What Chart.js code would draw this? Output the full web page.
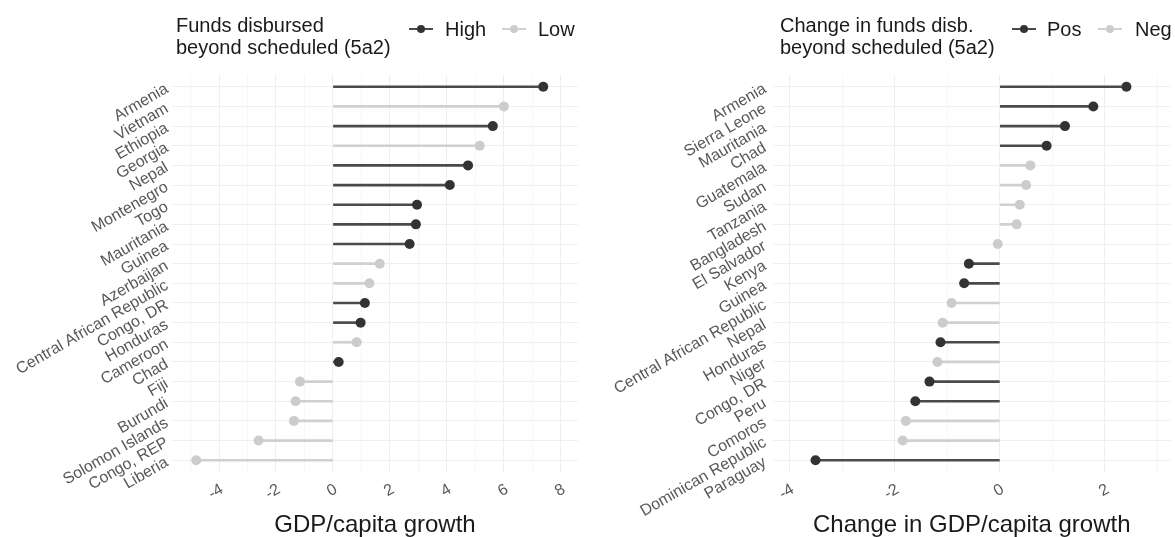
<!DOCTYPE html>
<html lang="en">
<head>
  <meta charset="UTF-8" />
  <title>GDP/capita growth lollipops</title>
  <script src="https://cdn.jsdelivr.net/npm/chart.js"></script>
  <style>
    body {
      margin: 0;
      background: #fff;
      font-family: "Liberation Sans", Arial, sans-serif;
    }
    #wrap {
      position: relative;
      width: 1175px;
      height: 537px;
      overflow: hidden;
    }
    canvas {
      position: absolute;
      top: 0;
    }
    .legend-title, .key-label {
      position: absolute;
      font-size: 20px;
      line-height: 22px;
      color: #1a1a1a;
      white-space: nowrap;
    }
    .key {
      position: absolute;
      top: 28px;
      width: 24px;
      height: 2px;
    }
    .key span {
      position: absolute;
      left: 8px;
      top: -3px;
      width: 8px;
      height: 8px;
      border-radius: 50%;
    }
  </style>
</head>
<body>
  <div id="wrap">
    <canvas id="leftChart" width="590" height="537" style="left:0"></canvas>
    <canvas id="rightChart" width="585" height="537" style="left:590px"></canvas>

    <div class="legend-title" style="left:176px; top:14px">Funds disbursed<br>beyond scheduled (5a2)</div>
    <div class="key" style="left:409px; background:#4a4a4a"><span style="background:#333"></span></div>
    <div class="key-label" style="left:445px; top:18px">High</div>
    <div class="key" style="left:502px; background:#d0d0d0"><span style="background:#ccc"></span></div>
    <div class="key-label" style="left:538px; top:18px">Low</div>

    <div class="legend-title" style="left:780px; top:14px">Change in funds disb.<br>beyond scheduled (5a2)</div>
    <div class="key" style="left:1012px; background:#4a4a4a"><span style="background:#333"></span></div>
    <div class="key-label" style="left:1047px; top:18px">Pos</div>
    <div class="key" style="left:1098px; background:#d0d0d0"><span style="background:#ccc"></span></div>
    <div class="key-label" style="left:1135px; top:18px">Neg</div>
  </div>

  <script>
    // left panel: GDP/capita growth by funds disbursed beyond scheduled
    const leftCountries = ["Armenia", "Vietnam", "Ethiopia", "Georgia", "Nepal", "Montenegro", "Togo",
      "Mauritania", "Guinea", "Azerbaijan", "Central African Republic", "Congo, DR", "Honduras",
      "Cameroon", "Chad", "Fiji", "Burundi", "Solomon Islands", "Congo, REP", "Liberia"];
    const leftGrowth = [7.38, 6.00, 5.61, 5.15, 4.74, 4.10, 2.95, 2.91, 2.69, 1.64, 1.28, 1.12, 0.97,
      0.83, 0.20, -1.16, -1.31, -1.37, -2.61, -4.80];
    const leftFunds = ["High", "Low", "High", "Low", "High", "High", "High", "High", "High", "Low",
      "Low", "High", "High", "Low", "High", "Low", "Low", "Low", "Low", "Low"];
    const leftTickLabels = [-4, -2, 0, 2, 4, 6, 8];

    // right panel: change in GDP/capita growth by change in funds
    const rightCountries = ["Armenia", "Sierra Leone", "Mauritania", "Chad", "Guatemala", "Sudan",
      "Tanzania", "Bangladesh", "El Salvador", "Kenya", "Guinea", "Central African Republic", "Nepal",
      "Honduras", "Niger", "Congo, DR", "Peru", "Comoros", "Dominican Republic", "Paraguay"];
    const rightChange = [2.41, 1.78, 1.24, 0.89, 0.58, 0.50, 0.38, 0.32, -0.04, -0.59, -0.68, -0.92,
      -1.09, -1.13, -1.19, -1.34, -1.61, -1.79, -1.85, -3.51];
    const rightFunds = ["Pos", "Pos", "Pos", "Pos", "Neg", "Neg", "Neg", "Neg", "Neg", "Pos", "Pos",
      "Neg", "Neg", "Pos", "Neg", "Pos", "Pos", "Neg", "Neg", "Pos"];
    const rightTickLabels = [-4, -2, 0, 2];

    const FONT = "'Liberation Sans', Arial, sans-serif";
    const darkLine = "#4a4a4a", darkPoint = "#333333";
    const lightLine = "#d0d0d0", lightPoint = "#cccccc";

    function lollipop(id, countries, values, groups, darkKey, tickLabels, xMin, xMax, yWidth, yPad, rightPad, xTitle) {
      const dark = groups.map(g => g === darkKey);
      new Chart(document.getElementById(id), {
        type: "bar",
        data: {
          datasets: [
            {
              type: "scatter",
              data: values.map((v, i) => ({ x: v, y: i })),
              pointRadius: 5,
              pointHoverRadius: 5,
              pointBorderWidth: 0,
              pointBackgroundColor: dark.map(d => d ? darkPoint : lightPoint),
              order: 0
            },
            {
              type: "bar",
              data: values.map((v, i) => ({ x: [0, v], y: i })),
              backgroundColor: dark.map(d => d ? darkLine : lightLine),
              barThickness: 2,
              order: 1
            }
          ]
        },
        options: {
          indexAxis: "y",
          responsive: false,
          animation: false,
          layout: { padding: { top: 75, right: rightPad, bottom: 0, left: 0 }, autoPadding: false },
          plugins: { legend: { display: false }, tooltip: { enabled: false } },
          scales: {
            x: {
              type: "linear",
              min: xMin,
              max: xMax,
              offset: false,
              border: { display: false },
              grid: {
                offset: false,
                drawTicks: false,
                color: ctx => (ctx.tick && ctx.tick.value % 2 === 0) ? "#eeeeee" : "#f6f6f6"
              },
              ticks: {
                stepSize: 1,
                includeBounds: false,
                autoSkip: false,
                minRotation: 30,
                maxRotation: 30,
                padding: 8,
                labelOffset: 3,
                color: "#585858",
                font: { family: FONT, size: 16 },
                callback: v => tickLabels.includes(v) ? String(v) : ""
              },
              title: {
                display: true,
                text: xTitle,
                color: "#1a1a1a",
                font: { family: FONT, size: 24, lineHeight: 1 },
                padding: 0
              },
              afterFit: s => { s.height = 65; }
            },
            y: {
              type: "linear",
              reverse: true,
              min: -0.6,
              max: countries.length - 0.4,
              offset: false,
              border: { display: false },
              grid: { offset: false, drawTicks: false, color: "#efefef" },
              ticks: {
                stepSize: 1,
                includeBounds: false,
                autoSkip: false,
                minRotation: 30,
                maxRotation: 30,
                padding: yPad,
                labelOffset: 1,
                color: "#585858",
                font: { family: FONT, size: 16 },
                callback: v => countries[v] ?? ""
              },
              afterFit: s => { s.width = yWidth; }
            }
          }
        }
      });
    }

    lollipop("leftChart", leftCountries, leftGrowth, leftFunds, "High", leftTickLabels,
      -5.65, 8.6, 172, 5, 12, "GDP/capita growth");
    lollipop("rightChart", rightCountries, rightChange, rightFunds, "Pos", rightTickLabels,
      -4.32, 3.25, 183, 8, 0, "Change in GDP/capita growth");
  </script>
</body>
</html>
